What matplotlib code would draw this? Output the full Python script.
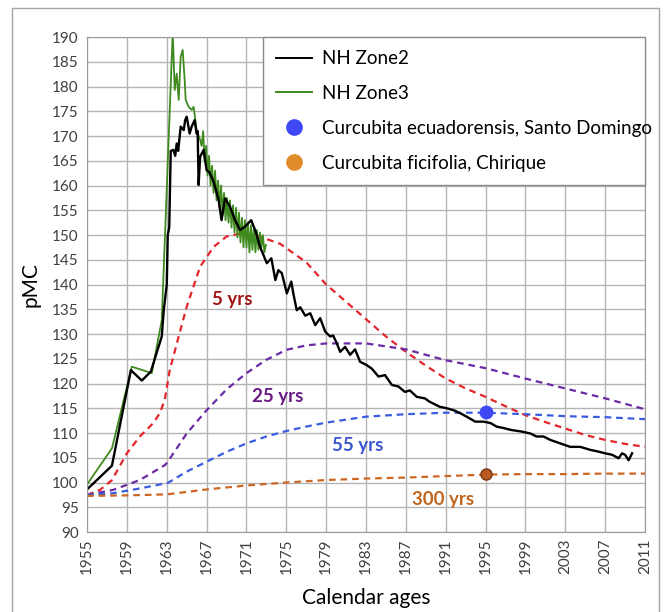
import matplotlib.pyplot as plt
from matplotlib.lines import Line2D
from matplotlib.patches import Rectangle

# NH Zone2 (black)
zone2_yr = [1955.0, 1957.5, 1959.4, 1960.5, 1961.4, 1962.5, 1962.7, 1963.0, 1963.1, 1963.25,
            1963.4, 1963.67, 1963.85, 1964.0, 1964.15, 1964.4, 1964.7, 1964.85, 1965.0, 1965.3,
            1965.5, 1965.8, 1966.0, 1966.1, 1966.2, 1966.35, 1966.7, 1967.0, 1967.3, 1967.7,
            1968.2, 1968.5, 1968.85, 1969.35, 1969.86, 1970.36, 1970.86, 1971.47, 1971.87, 1972.37,
            1973.04, 1973.5, 1973.9, 1974.2, 1974.55, 1975.05, 1975.5, 1975.7, 1976.05, 1976.4,
            1976.9, 1977.4, 1977.9, 1978.4, 1978.9, 1979.4, 1979.7, 1980.07, 1980.4, 1980.9,
            1981.4, 1981.9, 1982.4, 1983.08, 1983.58, 1984.25, 1984.9, 1985.6, 1986.25, 1986.9,
            1987.4, 1988.1, 1988.9, 1989.4, 1990.4, 1991.1, 1991.8, 1992.45, 1993.1, 1993.96,
            1994.8, 1995.5, 1996.1, 1996.8, 1997.6, 1998.6, 1999.5, 2000.1, 2000.8, 2001.5,
            2002.5, 2003.5, 2004.5, 2005.5, 2006.2, 2007.0, 2007.7, 2008.35, 2008.7, 2009.0,
            2009.35, 2009.7]
zone2_pmc = [98.6, 103.4, 122.7, 120.6, 122.4, 129.5, 134.8, 140.0, 150.0, 151.5,
             167.0, 167.2, 166.0, 168.5, 167.0, 171.9, 171.2, 173.2, 173.9, 170.5,
             171.9, 173.2, 170.5, 171.0, 160.1, 165.8, 167.2, 163.1, 162.6, 160.8,
             157.1, 153.0, 157.4, 155.7, 153.0, 151.0, 151.7, 153.0, 151.0, 147.6,
             144.3, 145.3, 140.9, 142.9, 142.3, 138.2, 140.6, 138.2, 134.8, 135.4,
             133.7, 134.2, 131.8, 133.2, 130.5, 129.5, 129.7, 128.1, 126.4, 127.4,
             125.8, 126.9, 124.4, 123.7, 123.0, 121.4, 121.7, 119.7, 119.4, 118.3,
             118.6, 117.3, 117.0, 116.3, 115.3, 115.0, 114.6, 114.0, 113.3, 112.3,
             112.3, 112.0, 111.3, 111.0, 110.6, 110.3, 109.9, 109.3, 109.3, 108.6,
             107.9, 107.2, 107.2, 106.6, 106.3, 105.9, 105.6, 104.9, 105.9, 105.6,
             104.5, 105.9]

# NH Zone3 (green)
zone3_yr = [1955.0, 1957.5, 1959.5, 1961.5, 1962.5, 1963.6, 1963.8, 1964.0, 1964.2, 1964.4,
            1964.6, 1964.8, 1964.9, 1965.2, 1965.5, 1965.7, 1966.0, 1966.35, 1966.5, 1966.65,
            1966.8, 1966.95, 1967.1, 1967.25, 1967.4, 1967.55, 1967.7, 1967.85, 1968.0, 1968.15,
            1968.3, 1968.45, 1968.6, 1968.75, 1968.9, 1969.05, 1969.2, 1969.35, 1969.5, 1969.65,
            1969.8, 1969.95, 1970.1, 1970.25, 1970.4, 1970.55, 1970.7, 1970.85, 1971.0, 1971.15,
            1971.3, 1971.45, 1971.6, 1971.75, 1971.9, 1972.05, 1972.2, 1972.35, 1972.5, 1972.65,
            1972.8, 1972.95]
zone3_pmc = [99.6, 106.9, 123.4, 122.1, 132.8, 191.0, 179.3, 182.6, 177.3, 186.0,
             187.4, 181.3, 177.3, 175.9, 175.3, 175.9, 171.2, 169.2, 168.0, 171.0,
             165.0, 168.0, 162.0, 166.0, 160.0, 164.0, 158.5, 163.0, 157.0, 161.0,
             155.5, 160.0, 154.0, 158.5, 153.0, 157.5, 152.5, 157.0, 151.5, 156.0,
             150.5, 155.5, 149.5, 154.5, 148.5, 153.5, 147.5, 153.0, 147.5, 152.5,
             146.5, 152.0, 147.0, 151.5, 146.5, 151.0, 147.0, 150.5, 147.5, 150.0,
             146.5, 148.0]

# model curves (mean residence time)
yr5 = [1955, 1956.3, 1957.5, 1959, 1960.3, 1961.65, 1962.3, 1962.8, 1963.3, 1964.2,
       1965.0, 1966.35, 1967.7, 1969.0, 1970.4, 1971.7, 1973.0, 1974.4, 1977, 1979,
       1981, 1983, 1985, 1987, 1989, 1991, 1993, 1995, 1997, 1999,
       2001, 2003, 2005, 2007, 2009, 2011]
pmc5 = [97.5, 98.5, 100.5, 105.9, 109.3, 112.0, 114.0, 116.7, 122.7, 129.5,
        135.5, 143.6, 147.6, 149.7, 150.3, 150.1, 149.2, 148.2, 144.5, 140.0,
        136.5, 133.0, 129.5, 126.4, 123.6, 121.0, 119.0, 117.3, 115.4, 113.6,
        112.2, 110.9, 109.6, 108.6, 107.8, 107.2]

yr25 = [1955, 1957.6, 1960.3, 1962.8, 1963, 1965, 1967, 1969, 1971, 1973,
        1975, 1977, 1979, 1983, 1987, 1991, 1995, 1999, 2003, 2007, 2011]
pmc25 = [97.5, 98.5, 100.5, 103.5, 103.9, 109.9, 114.6, 118.8, 122.1, 124.8,
         126.8, 127.7, 128.1, 128.1, 126.9, 124.7, 123.1, 121.0, 119.0, 117.0, 114.8]

yr55 = [1955, 1957.5, 1960.3, 1962.8, 1963, 1965, 1967, 1969, 1971, 1973,
        1975, 1977, 1979, 1983, 1987, 1991, 1995, 1999, 2003, 2007, 2011]
pmc55 = [97.5, 97.8, 98.8, 99.8, 99.8, 102.2, 104.2, 106.2, 107.9, 109.3,
         110.4, 111.3, 112.1, 113.3, 113.8, 114.1, 114.1, 113.8, 113.4, 113.2, 112.8]

yr300 = [1955, 1959, 1963, 1967, 1971, 1975, 1979, 1983, 1987, 1991, 1995, 1999, 2003, 2007, 2011]
pmc300 = [97.3, 97.4, 97.6, 98.6, 99.4, 100.0, 100.5, 100.8, 101.0, 101.3, 101.6, 101.7, 101.7, 101.8, 101.8]

# samples
ecu_yr, ecu_pmc = [1995], [114.2]
fic_yr, fic_pmc = [1995], [101.7]

curve_labels = ['5 yrs', '25 yrs', '55 yrs', '300 yrs']
label_yr = [1969.6, 1974.1, 1982.2, 1990.7]
label_pmc = [136.9, 117.3, 107.4, 96.5]
label_colors = ['#a01515', '#6a1a85', '#3a55d0', '#c0651f']

plt.rcParams['font.family'] = ['Lato', 'DejaVu Sans']

fig = plt.figure(figsize=(6.71, 6.12), dpi=100)
ax = fig.add_axes([0.1297, 0.1307, 0.8316, 0.8088])

# chart area border
fig.patches.append(Rectangle((12 / 671, -0.05), 647 / 671, 1.05 - 8 / 612, transform=fig.transFigure,
                             fill=False, edgecolor='#a6a6a6', linewidth=1.0))

ax.plot(yr5, pmc5, color='#e3262b', ls=(0, (3, 2.2)), lw=1.6)
ax.plot(yr25, pmc25, color='#6a2aa5', ls=(0, (3, 2.2)), lw=1.6)
ax.plot(yr55, pmc55, color='#3a5ce0', ls=(0, (3, 2.2)), lw=1.6)
ax.plot(yr300, pmc300, color='#cc6622', ls=(0, (3, 2.2)), lw=1.6)

ax.plot(zone3_yr, zone3_pmc, color='#3f8a1f', lw=1.3)
ax.plot(zone2_yr, zone2_pmc, color='black', lw=1.7)

ax.plot(ecu_yr, ecu_pmc, 'o', color='#3f48f5', ms=9, zorder=5)
ax.plot(fic_yr, fic_pmc, 'o', color='#b95a22', mec='#7a3a15', ms=8, zorder=5)

for txt, x, y, c in zip(curve_labels, label_yr, label_pmc, label_colors):
    ax.text(x, y, txt, color=c, fontsize=13.5, fontweight='bold', ha='center', va='center')

ax.set_xlim(1955, 2011)
ax.set_ylim(90, 190)
ax.set_xticks(range(1955, 2012, 4))
ax.set_yticks(range(90, 191, 5))
ax.tick_params(axis='x', labelrotation=90, labelsize=11, length=0, pad=5, labelcolor='#404040')
ax.tick_params(axis='y', labelsize=11, length=0, pad=6, labelcolor='#404040')
ax.grid(True, color='#b4b4b4', lw=1.0)
ax.set_axisbelow(True)
for s in ax.spines.values():
    s.set_color('#9a9a9a')

ax.set_ylabel('pMC', fontsize=15, labelpad=8)
ax.set_xlabel('Calendar ages', fontsize=15, labelpad=10)

handles = [Line2D([], [], color='black', lw=1.4),
           Line2D([], [], color='#3f8a1f', lw=1.4),
           Line2D([], [], marker='o', ls='none', color='#3f48f5', ms=11),
           Line2D([], [], marker='o', ls='none', color='#e08c2a', ms=11)]
names = ['NH Zone2', 'NH Zone3', 'Curcubita ecuadorensis, Santo Domingo', 'Curcubita ficifolia, Chirique']
leg = ax.legend(handles, names, loc='upper left', bbox_to_anchor=(0.3154, 0.0, 0.6846, 1.0),
                fontsize=13.5, frameon=True, fancybox=False, framealpha=1, edgecolor='#8a8a8a',
                handlelength=1.9, handletextpad=0.55, labelspacing=0.95, borderpad=0.7,
                borderaxespad=0, mode='expand')
leg.get_frame().set_linewidth(1.0)

fig.savefig('out.png', dpi=100)
